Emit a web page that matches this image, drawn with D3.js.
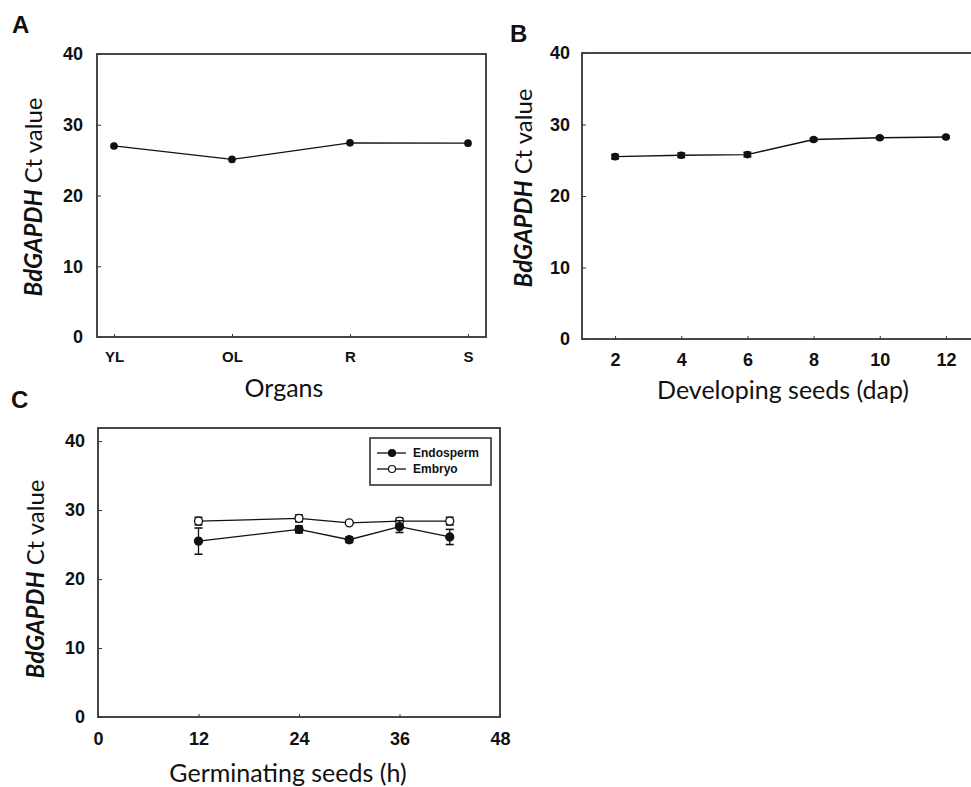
<!DOCTYPE html>
<html>
<head>
<meta charset="utf-8">
<script src="https://cdn.jsdelivr.net/npm/d3@7"></script>
<style>
  body { margin: 0; background: #fff; }
  svg { display: block; }
  .tick text { font-family: "Liberation Sans", Arial, sans-serif; font-weight: bold; fill: #111; }
  .title { font-family: Lato, "Open Sans", sans-serif; fill: #111; }
</style>
</head>
<body>
<div id="chart"></div>
<script>
// panel A - organs
var organs = ["YL", "OL", "R", "S"];
var organCt = [27.0, 25.1, 27.45, 27.4];
var organErr = [0.2, 0.2, 0.25, 0.2];

// panel B - developing seeds (dap)
var dap = [2, 4, 6, 8, 10, 12];
var dapCt = [25.5, 25.7, 25.8, 27.9, 28.15, 28.25];
var dapErr = [0.3, 0.3, 0.3, 0.2, 0.15, 0.15];

// panel C - germinating seeds (h)
var hours = [12, 24, 30, 36, 42];
var endospermCt = [25.5, 27.2, 25.7, 27.6, 26.1];
var endospermErr = [1.9, 0.5, 0.4, 0.85, 1.1];
var embryoCt = [28.4, 28.8, 28.15, 28.4, 28.4];
var embryoErr = [0.55, 0.5, 0.15, 0.45, 0.55];

var yTicks = [0, 10, 20, 30, 40];
var hourTicks = [0, 12, 24, 36, 48];

var W = 971, H = 787;

var svg = d3.select("#chart")
  .append("svg")
  .attr("width", W)
  .attr("height", H);

function drawFrame(box) {
  svg.append("rect")
    .attr("x", box.x0)
    .attr("y", box.y0)
    .attr("width", box.x1 - box.x0)
    .attr("height", box.y1 - box.y0)
    .attr("fill", "none")
    .attr("stroke", "#333")
    .attr("stroke-width", 1.8);
}

function drawAxes(box, x, y, opt) {
  var gx = svg.append("g")
    .attr("transform", "translate(0," + box.y1 + ")")
    .call(opt.xAxis.tickSize(-3).tickPadding(opt.xPad));
  gx.select(".domain").remove();
  gx.selectAll(".tick text").style("font-size", opt.xFont + "px");
  gx.selectAll(".tick line").attr("stroke", "#333");

  var gy = svg.append("g")
    .attr("transform", "translate(" + box.x0 + ",0)")
    .call(d3.axisLeft(y).tickValues(yTicks).tickSize(-4).tickPadding(opt.yPad));
  gy.select(".domain").remove();
  gy.selectAll(".tick text").style("font-size", "18px");
  gy.selectAll(".tick line").attr("stroke", "#333");
}

function yTitle(cx, cy) {
  var t = svg.append("text")
    .attr("class", "title")
    .attr("transform", "translate(" + cx + "," + cy + ") rotate(-90)")
    .attr("text-anchor", "middle")
    .style("font-size", "24px");
  t.append("tspan").style("font-weight", "bold").style("font-style", "italic").text("BdGAPDH");
  t.append("tspan").text(" Ct value");
}

function xTitle(cx, by, label) {
  svg.append("text")
    .attr("class", "title")
    .attr("x", cx)
    .attr("y", by)
    .attr("text-anchor", "middle")
    .style("font-size", "25px")
    .text(label);
}

function panelLetter(px, py, letter) {
  svg.append("text")
    .attr("x", px)
    .attr("y", py)
    .style("font-family", "Liberation Sans, Arial, sans-serif")
    .style("font-weight", "bold")
    .style("font-size", "24px")
    .attr("fill", "#111")
    .text(letter);
}

function drawSeries(xs, vals, errs, x, y, filled, r, cap) {
  var pts = xs.map(function (d, i) { return {x: d, v: vals[i], e: errs[i]}; });

  svg.append("path")
    .datum(pts)
    .attr("fill", "none")
    .attr("stroke", "#111")
    .attr("stroke-width", 1.3)
    .attr("d", d3.line()
      .x(function (d) { return x(d.x); })
      .y(function (d) { return y(d.v); }));

  var g = svg.append("g").selectAll("g")
    .data(pts)
    .enter().append("g");

  g.append("line")
    .attr("x1", function (d) { return x(d.x); })
    .attr("x2", function (d) { return x(d.x); })
    .attr("y1", function (d) { return y(d.v - d.e); })
    .attr("y2", function (d) { return y(d.v + d.e); })
    .attr("stroke", "#111")
    .attr("stroke-width", 1.3);

  [-1, 1].forEach(function (s) {
    g.append("line")
      .attr("x1", function (d) { return x(d.x) - cap; })
      .attr("x2", function (d) { return x(d.x) + cap; })
      .attr("y1", function (d) { return y(d.v + s * d.e); })
      .attr("y2", function (d) { return y(d.v + s * d.e); })
      .attr("stroke", "#111")
      .attr("stroke-width", 1.6);
  });

  g.append("circle")
    .attr("cx", function (d) { return x(d.x); })
    .attr("cy", function (d) { return y(d.v); })
    .attr("r", r)
    .attr("fill", filled ? "#111" : "#fff")
    .attr("stroke", "#111")
    .attr("stroke-width", 1.3);
}

// ---- Panel A ----
var boxA = {x0: 97, x1: 486, y0: 54, y1: 337};
var xA = d3.scalePoint().domain(organs).range([114, 468]);
var yA = d3.scaleLinear().domain([0, 40]).range([boxA.y1, boxA.y0]);
drawFrame(boxA);
drawAxes(boxA, xA, yA, {xAxis: d3.axisBottom(xA), xPad: 14, xFont: 15, yPad: 14});
drawSeries(organs, organCt, organErr, xA, yA, true, 3.2, 2);
yTitle(42, 197);
xTitle(284, 397, "Organs");
panelLetter(12, 33, "A");

// ---- Panel B ----
var boxB = {x0: 582, x1: 985, y0: 53, y1: 339};
var xB = d3.scaleLinear().domain([1, 13]).range([582, 979]);
var yB = d3.scaleLinear().domain([0, 40]).range([boxB.y1, boxB.y0]);
drawFrame(boxB);
drawAxes(boxB, xB, yB, {xAxis: d3.axisBottom(xB).tickValues(dap), xPad: 14, xFont: 18, yPad: 12});
drawSeries(dap, dapCt, dapErr, xB, yB, true, 3.2, 4);
yTitle(532, 188);
xTitle(783, 399, "Developing seeds (dap)");
panelLetter(510, 42, "B");

// ---- Panel C ----
var boxC = {x0: 98, x1: 500, y0: 428, y1: 717};
var xC = d3.scaleLinear().domain([0, 48]).range([boxC.x0, boxC.x1]);
var yC = d3.scaleLinear().domain([0, 41.9]).range([boxC.y1, boxC.y0]);
drawFrame(boxC);
drawAxes(boxC, xC, yC, {xAxis: d3.axisBottom(xC).tickValues(hourTicks), xPad: 15, xFont: 18, yPad: 13});
drawSeries(hours, embryoCt, embryoErr, xC, yC, false, 4, 4);
drawSeries(hours, endospermCt, endospermErr, xC, yC, true, 4, 4);
yTitle(44, 579);
xTitle(288, 782, "Germinating seeds (h)");
panelLetter(11, 408, "C");

// legend C
var legend = svg.append("g");
legend.append("rect")
  .attr("x", 370).attr("y", 438)
  .attr("width", 121).attr("height", 47)
  .attr("fill", "#fff")
  .attr("stroke", "#333")
  .attr("stroke-width", 1.6);

[{name: "Endosperm", filled: true}, {name: "Embryo", filled: false}].forEach(function (d, i) {
  var ly = 453 + i * 16;
  legend.append("line")
    .attr("x1", 377).attr("x2", 406)
    .attr("y1", ly).attr("y2", ly)
    .attr("stroke", "#111").attr("stroke-width", 1.3);
  legend.append("circle")
    .attr("cx", 392).attr("cy", ly).attr("r", 3.5)
    .attr("fill", d.filled ? "#111" : "#fff")
    .attr("stroke", "#111").attr("stroke-width", 1.2);
  legend.append("text")
    .attr("x", 413).attr("y", ly + 4)
    .style("font-family", "Liberation Sans, Arial, sans-serif")
    .style("font-weight", "bold")
    .style("font-size", "12px")
    .attr("fill", "#111")
    .text(d.name);
});
</script>
</body>
</html>
